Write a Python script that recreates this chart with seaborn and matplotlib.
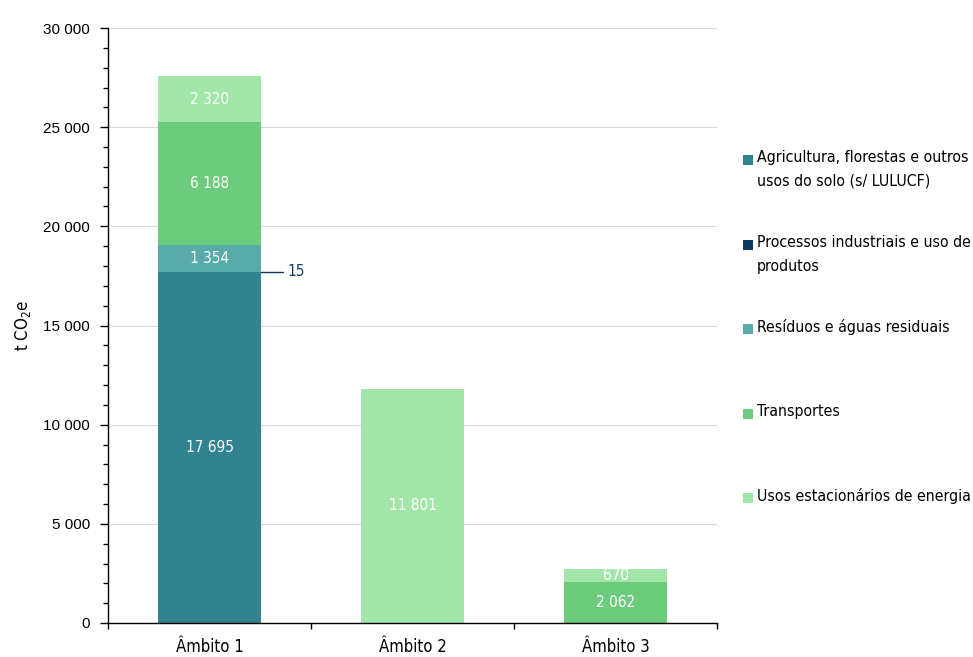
import matplotlib.pyplot as plt
import matplotlib.ticker as mticker
import numpy as np
import pandas as pd
import seaborn as sns
from matplotlib.patches import Rectangle

# data
scopes = ["Âmbito 1", "Âmbito 2", "Âmbito 3"]
sectors = [
    "Agricultura, florestas e outros\nusos do solo (s/ LULUCF)",
    "Processos industriais e uso de\nprodutos",
    "Resíduos e águas residuais",
    "Transportes",
    "Usos estacionários de energia",
]
agricultura = [17695, 0, 0]
processos = [15, 0, 0]
residuos = [1354, 0, 0]
transportes = [6188, 0, 2062]
usos_energia = [2320, 11801, 670]

colors = ["#32838f", "#0c3a5e", "#58aba8", "#6dcb7e", "#a3e6aa"]

sns.set_theme(style="white")
plt.rcParams["font.family"] = ["DejaVu Sans"]
plt.rcParams["font.stretch"] = "condensed"

values = np.array([agricultura, processos, residuos, transportes, usos_energia], dtype=float)
cum = values.cumsum(axis=0)

fig = plt.figure(figsize=(9.73, 6.57), dpi=100)
ax = fig.add_axes([108 / 973, 34 / 657, 609 / 973, 595 / 657])

# draw cumulative totals from the top layer down so lower layers sit on top
for i in range(len(sectors) - 1, -1, -1):
    df = pd.DataFrame({"scope": scopes, "total": cum[i]})
    sns.barplot(data=df, x="scope", y="total", color=colors[i], width=0.505,
                saturation=1, linewidth=0, ax=ax, zorder=2)

# segment labels
for i in range(len(sectors)):
    for j in range(len(scopes)):
        v = values[i, j]
        if v <= 0:
            continue
        mid = cum[i, j] - v / 2
        txt = f"{v:,.0f}".replace(",", " ")
        if v < 100:
            ax.plot([j + 0.253, j + 0.36], [mid, mid], color="#0c3a5e", lw=1,
                    clip_on=False, zorder=3)
            ax.text(j + 0.385, mid, txt, ha="left", va="center", fontsize=11,
                    color="#0c3a5e")
        else:
            ax.text(j, mid, txt, ha="center", va="center", fontsize=11,
                    color="white", zorder=4)

ax.set_xlim(-0.5, 2.5)
ax.set_ylim(0, 30000)
ax.yaxis.set_major_locator(mticker.MultipleLocator(5000))
ax.yaxis.set_minor_locator(mticker.MultipleLocator(1000))
ax.yaxis.set_major_formatter(
    mticker.FuncFormatter(lambda v, p: f"{v:,.0f}".replace(",", " ")))
ax.tick_params(axis="y", which="major", left=True, length=6, width=1,
               labelsize=11, colors="black", pad=7)
ax.tick_params(axis="y", which="minor", left=True, length=3.5, width=1,
               colors="black")
for t in ax.get_yticklabels():
    t.set_fontfamily("Liberation Sans")
    t.set_fontstretch("normal")
ax.yaxis.grid(True, color="#d9d9d9", lw=0.8, zorder=0)
ax.set_axisbelow(True)

# x ticks at category boundaries, labels in the middle
ax.set_xticks([0, 1, 2])
ax.set_xticklabels(scopes, fontsize=12, color="black")
ax.set_xticks([-0.5, 0.5, 1.5, 2.5], minor=True)
ax.tick_params(axis="x", which="major", bottom=False, pad=5)
ax.tick_params(axis="x", which="minor", bottom=True, length=4.5, width=1,
               colors="black")
ax.set_xlabel("")
ax.set_ylabel("t CO$_2$e", fontsize=12, labelpad=7, color="black")

for s in ["top", "right"]:
    ax.spines[s].set_visible(False)
for s in ["left", "bottom"]:
    ax.spines[s].set_color("black")
    ax.spines[s].set_linewidth(1)

# legend drawn as a column of squares and labels on the right
legend_y = [160, 245, 329, 414, 498]
for c, lab, y in zip(colors, sectors, legend_y):
    fy = 1 - y / 657
    fig.patches.append(Rectangle((743 / 973, fy - 5 / 657), 10 / 973, 10 / 657,
                                 transform=fig.transFigure, facecolor=c,
                                 edgecolor="none"))
    fig.text(757 / 973, fy + 10 / 657, lab, ha="left", va="top", fontsize=11.3,
             color="black", linespacing=1.75)

fig.savefig("out.png", dpi=100)
